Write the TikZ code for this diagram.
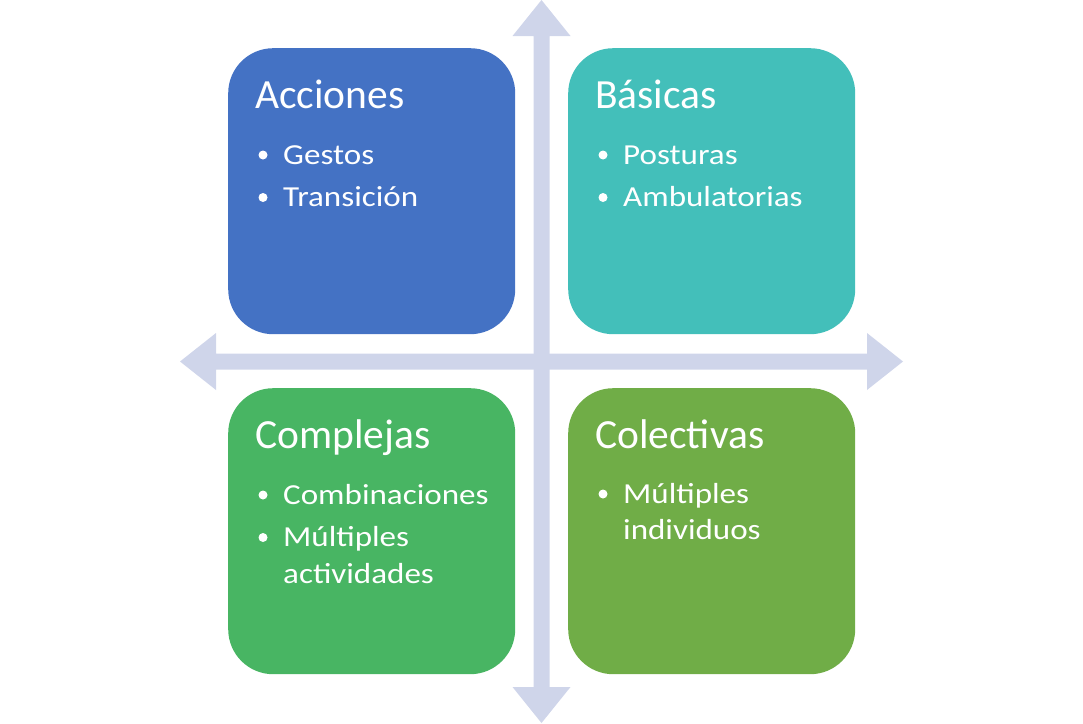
\documentclass[tikz,border=0pt]{standalone}
\usepackage{fontspec}
\setmainfont{Carlito}
\newfontfamily\itmfont[FakeStretch=1.14]{Carlito}
\definecolor{axiscol}{HTML}{CFD5EA}
\definecolor{cblue}{HTML}{4472C4}
\definecolor{cteal}{HTML}{43BFBA}
\definecolor{cgreen}{HTML}{48B563}
\definecolor{colive}{HTML}{70AD47}
\begin{document}
\begin{tikzpicture}[x=1pt,y=-1pt,
  quad/.style={rounded corners=45pt, minimum width=287pt, minimum height=286pt, inner sep=0pt, anchor=north west},
  ttl/.style={anchor=base west, text=white, font=\fontsize{41.5}{48}\selectfont, inner sep=0pt},
  itm/.style={anchor=base west, text=white, font=\itmfont\fontsize{29}{33}\selectfont, inner sep=0pt},
  bul/.style={circle, fill=white, inner sep=0pt, minimum size=9pt}]
\useasboundingbox (0,0) rectangle (1083,723);
% axes
\fill[axiscol] (180,361.5) -- (216,333) -- (216,353.5) -- (867,353.5) -- (867,333) -- (903,361.5) -- (867,390) -- (867,369.5) -- (216,369.5) -- (216,390) -- cycle;
\fill[axiscol] (541.5,0) -- (570.5,36) -- (549.5,36) -- (549.5,687) -- (570.5,687) -- (541.5,723) -- (512.5,687) -- (533.5,687) -- (533.5,36) -- (512.5,36) -- cycle;
% boxes
\node[quad, fill=cblue] (q1) at (228,48) {};
\node[quad, fill=cteal] (q2) at (568,48) {};
\node[quad, fill=cgreen] (q3) at (228,388) {};
\node[quad, fill=colive] (q4) at (568,388) {};
% box 1
\node[ttl] (t1) at (255,108) {Acciones};
\node[bul] (b11) at (263,155) {};
\node[itm] (i11) at (283,164) {Gestos};
\node[bul] (b12) at (263,197.5) {};
\node[itm] (i12) at (283,206.5) {Transición};
% box 2
\node[ttl] (t2) at (595,108) {Básicas};
\node[bul] (b21) at (603,155) {};
\node[itm] (i21) at (623,164) {Posturas};
\node[bul] (b22) at (603,197.5) {};
\node[itm] (i22) at (623,206.5) {Ambulatorias};
% box 3
\node[ttl] (t3) at (255,448) {Complejas};
\node[bul] (b31) at (263,495) {};
\node[itm] (i31) at (283,504) {Combinaciones};
\node[bul] (b32) at (263,537.5) {};
\node[itm] (i32) at (283,546.5) {Múltiples};
\node[itm] (i33) at (283,583) {actividades};
% box 4
\node[ttl] (t4) at (595,448) {Colectivas};
\node[bul] (b41) at (603,494) {};
\node[itm] (i41) at (623,503) {Múltiples};
\node[itm] (i42) at (623,539.5) {individuos};
\end{tikzpicture}
\end{document}
